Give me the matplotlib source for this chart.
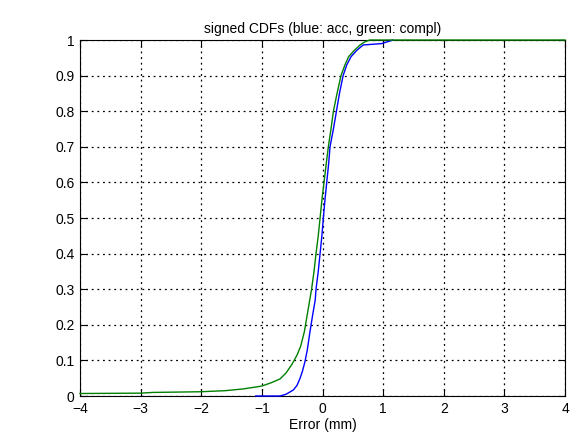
import matplotlib
matplotlib.use("Agg")
import matplotlib.pyplot as plt

green_x = [-4.0, -3.0, -2.8, -2.0, -1.6, -1.3, -1.0, -0.85, -0.7, -0.6, -0.5, -0.42, -0.36,
           -0.30, -0.25, -0.21, -0.18, -0.14, -0.107, -0.07, -0.04, -0.01, 0.025, 0.06, 0.096,
           0.14, 0.18, 0.24, 0.305, 0.37, 0.43, 0.52, 0.62, 0.70, 0.78, 4.0]
green_y = [0.007, 0.008, 0.010, 0.012, 0.015, 0.020, 0.028, 0.037, 0.048, 0.065, 0.090, 0.115,
           0.140, 0.180, 0.230, 0.270, 0.300, 0.350, 0.400, 0.450, 0.500, 0.550, 0.600, 0.650,
           0.700, 0.750, 0.800, 0.850, 0.900, 0.930, 0.953, 0.970, 0.986, 0.995, 1.0, 1.0]

blue_x = [-1.1, -0.70, -0.6, -0.48, -0.42, -0.37, -0.33, -0.29, -0.25, -0.21, -0.16, -0.12,
          -0.107, -0.07, -0.04, -0.01, 0.014, 0.04, 0.07, 0.10, 0.124, 0.18, 0.23, 0.28, 0.34,
          0.40, 0.47, 0.56, 0.67, 0.98, 1.16]
blue_y = [0.0, 0.0, 0.005, 0.017, 0.030, 0.050, 0.070, 0.096, 0.130, 0.177, 0.230, 0.270,
          0.300, 0.350, 0.400, 0.450, 0.500, 0.550, 0.600, 0.650, 0.700, 0.750, 0.800, 0.850,
          0.900, 0.930, 0.953, 0.970, 0.986, 0.990, 1.0]

x_ticks = [-4, -3, -2, -1, 0, 1, 2, 3, 4]
x_labels = ["\u22124", "\u22123", "\u22122", "\u22121", "0", "1", "2", "3", "4"]
y_ticks = [0, 0.1, 0.2, 0.3, 0.4, 0.5, 0.6, 0.7, 0.8, 0.9, 1.0]
y_labels = ["0", "0.1", "0.2", "0.3", "0.4", "0.5", "0.6", "0.7", "0.8", "0.9", "1"]

plt.rcParams['font.family'] = ['Liberation Sans', 'DejaVu Sans']
fig = plt.figure(figsize=(5.76, 4.32), dpi=100, facecolor='white')
ax = fig.add_axes([80/576, 1-396/432, (565-80)/576, (396-40)/432])

ax.plot(blue_x, blue_y, color=(0, 0, 1), lw=1.0, clip_on=False, zorder=3)
ax.plot(green_x, green_y, color=(0, 0.5, 0), lw=1.0, clip_on=False, zorder=3)

ax.set_xlim(-4, 4)
ax.set_ylim(0, 1)
ax.set_xticks(x_ticks)
ax.set_xticklabels(x_labels)
ax.set_yticks(y_ticks)
ax.set_yticklabels(y_labels)
ax.tick_params(direction='in', length=5, width=0.8, labelsize=10, top=True, right=True, pad=4)
ax.grid(True, color='black', linestyle=(0, (1.5, 3)), linewidth=0.9)
for s in ax.spines.values():
    s.set_linewidth(0.8)
ax.set_xlabel("Error (mm)", fontsize=10, labelpad=2)
ax.set_title("signed CDFs (blue: acc, green: compl)", fontsize=10, pad=5)

fig.savefig("out.png", dpi=100, facecolor='white')
